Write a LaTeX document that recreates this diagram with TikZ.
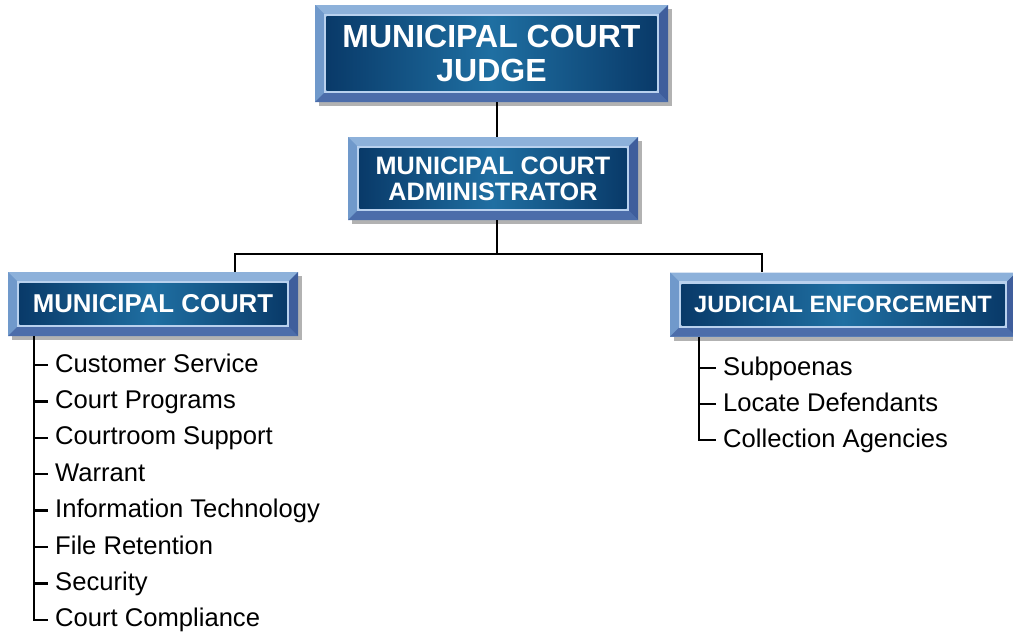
\documentclass[tikz,border=0pt]{standalone}
\usepackage{fontspec}
\setmainfont{Liberation Sans}
\usepackage{tikz}
\usetikzlibrary{calc}
\usetikzlibrary{shadows}
\definecolor{bevellight}{HTML}{8DB1DA}
\definecolor{bevelleft}{HTML}{7099CB}
\definecolor{beveldark}{HTML}{4C6DAA}
\definecolor{bevelright}{HTML}{3F5E9C}
\definecolor{rimblue}{HTML}{B9D1EE}
\definecolor{panelblue}{HTML}{093A69}
\definecolor{panelglow}{HTML}{1F6FA2}
\tikzset{
  orgbox/.style = {rectangle, inner sep = 0, text = white, align = center, fill = bevelleft,
    drop shadow = {shadow xshift = 4pt, shadow yshift = -4pt, opacity = 0.3, fill = black},
    path picture = {
      \coordinate (nw) at (path picture bounding box.north west);
      \coordinate (ne) at (path picture bounding box.north east);
      \coordinate (sw) at (path picture bounding box.south west);
      \coordinate (se) at (path picture bounding box.south east);
      \fill [bevellight] (nw) -- (ne) -- ([xshift=-11pt, yshift=-11pt]ne) -- ([xshift=11pt, yshift=-11pt]nw) -- cycle;
      \fill [bevelleft] (nw) -- (sw) -- ([xshift=11pt, yshift=11pt]sw) -- ([xshift=11pt, yshift=-11pt]nw) -- cycle;
      \fill [beveldark] (sw) -- (se) -- ([xshift=-11pt, yshift=11pt]se) -- ([xshift=11pt, yshift=11pt]sw) -- cycle;
      \fill [bevelright] (ne) -- (se) -- ([xshift=-11pt, yshift=11pt]se) -- ([xshift=-11pt, yshift=-11pt]ne) -- cycle;
      \draw [rimblue, line width = 2.5pt] ([xshift=10pt, yshift=10pt]sw) rectangle ([xshift=-10pt, yshift=-10pt]ne);
      \shade [left color = panelblue, right color = panelblue, middle color = panelglow]
        ([xshift=11.5pt, yshift=11.5pt]sw) rectangle ([xshift=-11.5pt, yshift=-11.5pt]ne);
    }},
  duty/.style = {anchor = base west, inner sep = 0, text height = 18pt, text depth = 4pt,
    font = \fontsize{25.6}{28}\selectfont},
  link/.style = {line width = 2.4pt, black}
}

\begin{document}
\begin{tikzpicture}[x = 1pt, y = -1pt]
  \useasboundingbox (0, 0) rectangle (1013, 635);

  % boxes
  \node [orgbox, minimum width = 353pt, minimum height = 97pt,
    font = \bfseries\fontsize{32}{34}\selectfont] (judge) at (491.5, 53.5) {MUNICIPAL COURT\\JUDGE};
  \node [orgbox, minimum width = 290pt, minimum height = 83pt,
    font = \bfseries\fontsize{25.2}{26}\selectfont] (admin) at (493, 178.5) {MUNICIPAL COURT\\ADMINISTRATOR};
  \node [orgbox, minimum width = 290pt, minimum height = 64pt,
    font = \bfseries\fontsize{25.8}{28}\selectfont] (mc) at (153, 304) {MUNICIPAL COURT};
  \node [orgbox, minimum width = 346pt, minimum height = 64pt,
    font = \bfseries\fontsize{23.6}{28}\selectfont] (je) at (843, 304.5) {JUDICIAL ENFORCEMENT};

  % connectors
  \coordinate (spine) at (497, 0);
  \draw [link] (judge.south -| spine) -- (admin.north -| spine);
  \draw [link] (admin.south -| spine) -- ++(0, 34) coordinate (split);
  \draw [link] (split) -| ([xshift=82pt]mc.north);
  \draw [link] (split) -| ([xshift=-81pt]je.north);

  % municipal court duties
  \foreach \duty [count=\i] in {Customer Service, Court Programs, Courtroom Support, Warrant,
      Information Technology, File Retention, Security, Court Compliance}
    \node [duty] (mc-\i) at (55, 372 + 36.4*\i - 36.4) {\duty};
  \coordinate (mctrunk) at ([xshift=26pt]mc.south west);
  \draw [link] (mctrunk) |- ([xshift=-7pt]mc-8.west);
  \foreach \i in {1, ..., 7}
    \draw [link] (mc-\i.west -| mctrunk) -- ([xshift=-7pt]mc-\i.west);

  % judicial enforcement duties
  \foreach \duty [count=\i] in {Subpoenas, Locate Defendants, Collection Agencies}
    \node [duty] (je-\i) at (723, 375 + 36*\i - 36) {\duty};
  \coordinate (jetrunk) at ([xshift=29pt]je.south west);
  \draw [link] (jetrunk) |- ([xshift=-7pt]je-3.west);
  \foreach \i in {1, 2}
    \draw [link] (je-\i.west -| jetrunk) -- ([xshift=-7pt]je-\i.west);

\end{tikzpicture}
\end{document}
